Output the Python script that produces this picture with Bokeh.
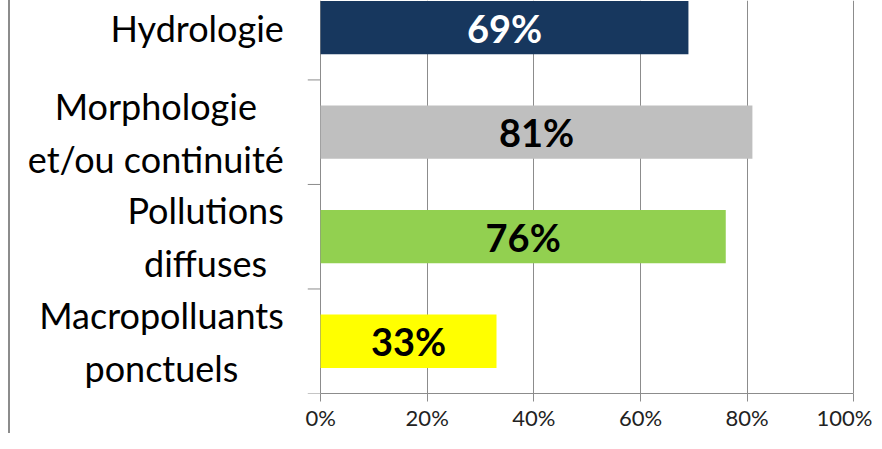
import numpy as np
from bokeh.plotting import figure
from bokeh.models import Range1d, FixedTicker, NumeralTickFormatter, ColumnDataSource
from bokeh.core.properties import value
from bokeh.embed import file_html
from bokeh.resources import INLINE

# ---- data (top to bottom) ----
categories = ["Hydrologie", "Morphologie\net/ou continuité", "Pollutions\ndiffuses", "Macropolluants\nponctuels"]
values = [0.69, 0.81, 0.76, 0.33]
labels = ["69%", "81%", "76%", "33%"]
colors = ["#17375E", "#BFBFBF", "#92D050", "#FFFF00"]
label_colors = ["#FFFFFF", "#000000", "#000000", "#000000"]
x_ticks = [0, 0.2, 0.4, 0.6, 0.8, 1.0]

n = len(categories)
ypos = [n - 1 - i + 0.5 for i in range(n)]

src = ColumnDataSource(dict(
    y=ypos, v=values, half=[v / 2 for v in values], lab=labels,
    col=colors, lcol=label_colors, cat=categories,
))

FONT = "Lato"
GRID = "#8C8C8C"

p = figure(width=864, height=433, output_backend="svg", toolbar_location=None,
           x_range=Range1d(-0.5816, 1.039), y_range=Range1d(0, 3.76),
           min_border_left=0, min_border_right=0, min_border_top=0,
           y_axis_location=None)
p.outline_line_color = None
p.styles = {"margin-left": "8px", "border-left": "2px solid #8C8C8C"}

# x axis
ax = p.xaxis[0]
ax.ticker = FixedTicker(ticks=x_ticks)
ax.formatter = NumeralTickFormatter(format="0%")
ax.bounds = (0, 1)
ax.axis_line_color = GRID
ax.major_tick_line_color = GRID
ax.major_tick_out = 8
ax.major_tick_in = 0
ax.minor_tick_line_color = None
ax.major_label_standoff = 2
ax.major_label_text_font = FONT
ax.major_label_text_font_size = "22px"
ax.major_label_text_color = "#222222"

# grid (vertical lines only; the one at 0 acts as the category axis line)
p.xgrid.ticker = FixedTicker(ticks=x_ticks)
p.xgrid.grid_line_color = GRID
p.xgrid.grid_line_width = 1
p.ygrid.grid_line_color = None

# bars
p.hbar(y="y", right="v", left=0, height=0.51, fill_color="col", line_color=None, source=src)

# category tick marks at band boundaries
bounds = np.arange(n + 1)
p.segment(x0=-0.024, x1=0, y0=bounds, y1=bounds, line_color=GRID, line_width=1)

# value labels
p.text(x="half", y="y", text="lab", text_color="lcol", text_align="center",
       text_baseline="middle", text_font=value(FONT), text_font_style="bold",
       text_font_size="38px", source=src)

# category labels
p.text(x=-0.069, y="y", text="cat", text_align="center", text_baseline="middle",
       anchor=value("center_right"), text_font=value(FONT), text_font_size="36px",
       text_color="#000000", text_line_height=1.2, source=src)

open("out.html", "w").write(file_html(p, INLINE))
